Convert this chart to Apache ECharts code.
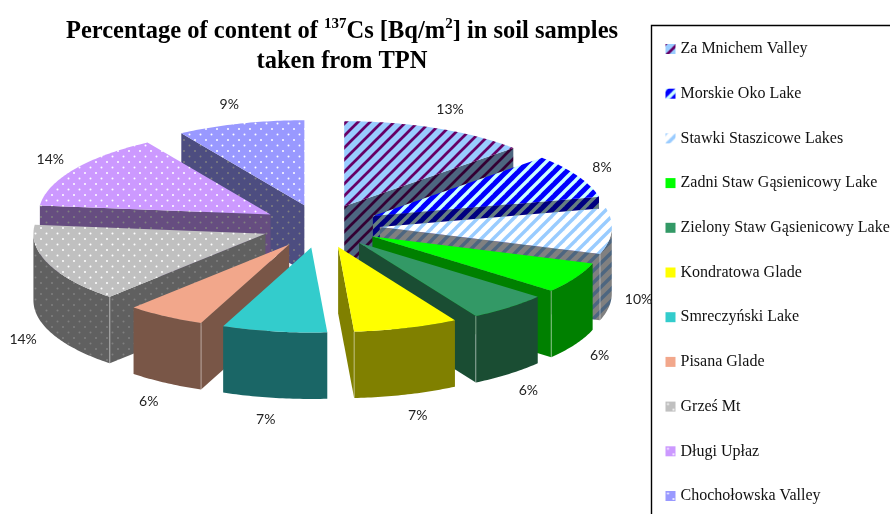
<!DOCTYPE html>
<html>
<head>
<meta charset="utf-8">
<title>137Cs in soil samples</title>
<script src="https://cdn.jsdelivr.net/npm/echarts@6/dist/echarts.min.js"></script>
<style>
  html, body { margin: 0; padding: 0; background: #fff; }
  #chart { width: 890px; height: 514px; }
</style>
</head>
<body>
<div id="chart"></div>
<script>
// sites, clockwise from 12 o'clock
const sites = ['Za Mnichem Valley', 'Morskie Oko Lake', 'Stawki Staszicowe Lakes', 'Zadni Staw Gąsienicowy Lake',
  'Zielony Staw Gąsienicowy Lake', 'Kondratowa Glade', 'Smreczyński Lake', 'Pisana Glade', 'Grześ Mt', 'Długi Upłaz', 'Chochołowska Valley']
// size of each slice (share of the full circle)
const shares = [13, 8.4, 8.7, 5.9, 5.6, 7.3, 7.3, 5.5, 15, 14.4, 8.9]
// the labels printed on the chart
const percentLabels = ['13%', '8%', '10%', '6%', '6%', '7%', '7%', '6%', '14%', '14%', '9%']

const topColors = ['#99ccff', '#0000ff', '#ffffff', '#00ff00', '#339966', '#ffff00', '#33cccc', '#f2a78b', '#c0c0c0', '#cc99ff', '#9999ff']
const wallColors = ['#4d6680', '#000080', '#808080', '#008000', '#1a4d33', '#808000', '#1a6666', '#795647', '#606060', '#664d80', '#4d4d80']
const patternKinds = ['stripe', 'stripe', 'stripe', null, null, null, null, null, 'dots', 'dots', 'dots']
const topMarks = ['#660066', '#ccffff', '#99ccff', null, null, null, null, null, '#ffffff', '#ffffff', '#ffffff']
const wallMarks = ['#330033', '#667f7f', '#4d6680', null, null, null, null, null, '#808080', '#808080', '#808080']
const stripeWidths = [2.7, 3.4, 3.4]

const explode = 0.255 // how far slices are pulled out, in radius units
const depth = 0.782 // thickness of the pie, in vertical radius units

function stripeTile(bg, fg, width) {
  const c = document.createElement('canvas')
  c.width = c.height = 12
  const ctx = c.getContext('2d')
  ctx.fillStyle = bg
  ctx.fillRect(0, 0, 12, 12)
  ctx.strokeStyle = fg
  ctx.lineWidth = width
  for (let i = -1; i <= 1; i++) {
    ctx.beginPath()
    ctx.moveTo(i * 12 - 2, 14)
    ctx.lineTo(i * 12 + 14, -2)
    ctx.stroke()
  }
  return { image: c, repeat: 'repeat' }
}

function dotTile(bg, fg) {
  const c = document.createElement('canvas')
  c.width = c.height = 11
  const ctx = c.getContext('2d')
  ctx.fillStyle = bg
  ctx.fillRect(0, 0, 11, 11)
  ctx.fillStyle = fg
  ;[[2.5, 2.5], [8, 8]].forEach(function (p) {
    ctx.beginPath()
    ctx.arc(p[0], p[1], 1, 0, Math.PI * 2)
    ctx.fill()
  })
  return { image: c, repeat: 'repeat' }
}

function makeFill(i, colors, marks) {
  if (patternKinds[i] === 'stripe') {
    return stripeTile(colors[i], marks[i], stripeWidths[i])
  }
  if (patternKinds[i] === 'dots') {
    return dotTile(colors[i], marks[i])
  }
  return colors[i]
}

const topFills = sites.map(function (s, i) { return makeFill(i, topColors, topMarks) })
const wallFills = sites.map(function (s, i) { return makeFill(i, wallColors, wallMarks) })

// cumulative start / end of every slice, in share units
let running = 0
const sliceRanges = shares.map(function (v) {
  const r = [running, running + v]
  running += v
  return r
})
const toAngle = (share) => share / 100 * Math.PI * 2

// far slices have to be painted first
const paintOrder = sliceRanges.map(function (r, i) {
  return { i: i, back: Math.cos(toAngle((r[0] + r[1]) / 2)) }
}).sort(function (a, b) { return b.back - a.back })

function renderSlice(params, api) {
  const i = params.seriesIndex
  const a0 = toAngle(api.value(0))
  const a1 = toAngle(api.value(1))
  const mid = (a0 + a1) / 2
  const ox = explode * Math.sin(mid)
  const oy = explode * Math.cos(mid)
  const at = (x, y, low) => api.coord([ox + x, oy + y - (low ? depth : 0)])
  const rim = (a, low) => at(Math.sin(a), Math.cos(a), low)

  const arc = function (from, to, low) {
    const pts = []
    const n = Math.max(2, Math.ceil(Math.abs(to - from) / 0.015))
    for (let k = 0; k <= n; k++) {
      pts.push(rim(from + (to - from) * k / n, low))
    }
    return pts
  }

  const children = []
  const radialWall = function (a) {
    children.push({
      type: 'polygon',
      shape: { points: [at(0, 0, false), rim(a, false), rim(a, true), at(0, 0, true)] },
      style: { fill: wallFills[i] }
    })
  }
  const startVisible = Math.sin(a0) < -0.001
  const endVisible = Math.sin(a1) > 0.001
  if (startVisible) radialWall(a0)
  if (endVisible) radialWall(a1)

  // outer wall, only the part on the viewer's side of the pie
  const wall0 = Math.max(a0, Math.PI / 2)
  const wall1 = Math.min(a1, Math.PI * 1.5)
  if (wall1 > wall0) {
    children.push({
      type: 'polygon',
      shape: { points: arc(wall0, wall1, false).concat(arc(wall1, wall0, true)) },
      style: { fill: wallFills[i] }
    })
    // pale seam where the outer wall meets a radial wall
    const seam = function (a) {
      const p = rim(a, false)
      const q = rim(a, true)
      children.push({
        type: 'line',
        shape: { x1: p[0], y1: p[1], x2: q[0], y2: q[1] },
        style: { stroke: 'rgba(255,255,255,0.45)', lineWidth: 1 }
      })
    }
    if (endVisible && wall1 === a1) seam(a1)
    if (startVisible && wall0 === a0) seam(a0)
  }

  children.push({
    type: 'polygon',
    shape: { points: [at(0, 0, false)].concat(arc(a0, a1, false)) },
    style: { fill: topFills[i] }
  })

  // label sits just outside the slice, below the wall on the front half
  const anchor = rim(mid, Math.cos(mid) < 0)
  const sx = Math.sin(mid)
  children.push({
    type: 'text',
    x: anchor[0] + 22 * sx + 5 * Math.sign(sx),
    y: anchor[1] - 21 * Math.cos(mid) + 1,
    z2: 100,
    style: {
      text: percentLabels[i],
      fill: '#222',
      font: '14px Lato',
      align: 'center',
      verticalAlign: 'middle'
    }
  })

  return { type: 'group', children: children }
}

const options = {
  animation: false,
  backgroundColor: '#fff',
  title: {
    left: 337,
    top: 12,
    textAlign: 'center',
    text: '{a|Percentage of content of }{s|137}{a|Cs [Bq/m}{s|2}{a|] in soil samples}\n{a|taken from TPN}',
    textStyle: {
      rich: {
        a: { fontFamily: 'Liberation Serif', fontWeight: 'bold', fontSize: 24.5, color: '#000', lineHeight: 30 },
        s: { fontFamily: 'Liberation Serif', fontWeight: 'bold', fontSize: 15, color: '#000', lineHeight: 30, verticalAlign: 'top' }
      }
    }
  },
  legend: {
    type: 'plain',
    orient: 'vertical',
    left: 665.5,
    top: 41,
    padding: 0,
    icon: 'rect',
    itemWidth: 10,
    itemHeight: 10,
    itemGap: 28.7,
    selectedMode: false,
    textStyle: { fontFamily: 'Liberation Serif', fontSize: 16, color: '#111' },
    data: sites.map(function (name, i) {
      return { name: name, itemStyle: { color: topFills[i] } }
    })
  },
  graphic: [{
    type: 'rect',
    shape: { x: 651.5, y: 25.5, width: 300, height: 600 },
    style: { fill: 'none', stroke: '#000', lineWidth: 1.4 }
  }],
  // one unit on these axes is one pie radius, so the ellipse comes from the scales
  grid: { left: 19.1, top: 115.6, width: 603.2, height: 221 },
  xAxis: { type: 'value', show: false, min: -1.3, max: 1.3 },
  yAxis: { type: 'value', show: false, min: -1.3, max: 1.3 },
  series: sites.map(function (name, i) {
    return {
      name: name,
      type: 'custom',
      coordinateSystem: 'cartesian2d',
      renderItem: renderSlice,
      z: 2 + paintOrder.findIndex(function (p) { return p.i === i }),
      silent: true,
      data: [sliceRanges[i]]
    }
  })
}

const thisChart = echarts.init(document.getElementById('chart'))
thisChart.setOption(options)
</script>
</body>
</html>
